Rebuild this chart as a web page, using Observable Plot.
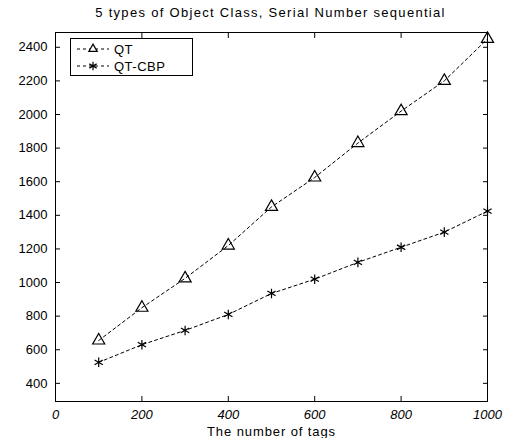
<!DOCTYPE html>
<html>
<head>
<meta charset="utf-8">
<script src="https://cdn.jsdelivr.net/npm/d3@7"></script>
<script src="https://cdn.jsdelivr.net/npm/@observablehq/plot@0.6"></script>
<style>
  body { margin: 0; background: #fff; font-family: "Liberation Sans", Arial, sans-serif; }
  #wrap { position: relative; width: 509px; height: 438px; }
  #title { position: absolute; left: 0; top: 5px; width: 509px; text-align: center; font-size: 13px; letter-spacing: 1.3px; padding-left: 32px; box-sizing: border-box; color: #000; }
  #chart { position: absolute; left: 0; top: 22px; }
  #legend { position: absolute; left: 70px; top: 38px; width: 121px; height: 36px; border: 1px solid #000; background: #fff; font-size: 13px; letter-spacing: 0.5px; }
  #legend .row { position: absolute; left: 4px; height: 16px; display: flex; align-items: center; }
  #legend svg { margin-right: 3px; }
</style>
</head>
<body>
<div id="wrap">
  <div id="title">5 types of Object Class, Serial Number sequential</div>
  <div id="chart"></div>
  <div id="legend"></div>
</div>
<script>
const tags = [100, 200, 300, 400, 500, 600, 700, 800, 900, 1000];
const qt = [655, 850, 1025, 1220, 1450, 1625, 1830, 2020, 2200, 2450];
const qtcbp = [525, 630, 715, 810, 935, 1020, 1120, 1210, 1300, 1425];
const seriesNames = ["QT", "QT-CBP"];
const seriesSymbols = ["triangle", "asterisk"];
const xTicks = [0, 200, 400, 600, 800, 1000];
const yTicks = [400, 600, 800, 1000, 1200, 1400, 1600, 1800, 2000, 2200, 2400];

const rows = [];
tags.forEach((t, i) => {
  rows.push({tags: t, value: qt[i], series: seriesNames[0]});
  rows.push({tags: t, value: qtcbp[i], series: seriesNames[1]});
});

const fmt = d3.format("d");
const chart = Plot.plot({
  width: 509,
  height: 416,
  marginLeft: 55,
  marginRight: 22,
  marginTop: 10,
  marginBottom: 37,
  style: {fontFamily: "Liberation Sans, Arial, sans-serif", fontSize: "13px", color: "#000", background: "#fff"},
  x: {domain: [0, 1000]},
  y: {domain: [292, 2488]},
  symbol: {domain: seriesNames, range: seriesSymbols},
  marks: [
    Plot.frame({stroke: "#000", strokeWidth: 1}),
    Plot.axisY(yTicks, {anchor: "left", tickSize: -5, tickPadding: 13, tickFormat: fmt, label: null, fontSize: 13}),
    Plot.axisY(yTicks, {anchor: "right", tickSize: -5, tickFormat: () => "", label: null}),
    Plot.axisX(xTicks, {anchor: "bottom", tickSize: -5, tickPadding: 13, tickFormat: fmt, label: null, fontSize: 13, fontStyle: "italic"}),
    Plot.axisX(xTicks, {anchor: "top", tickSize: -5, tickFormat: () => "", label: null}),
    Plot.text(["The number of tags"], {frameAnchor: "bottom", dy: 30, fontSize: 13, lineAnchor: "middle"}),
    Plot.line(rows, {x: "tags", y: "value", z: "series", stroke: "#000", strokeWidth: 1, strokeDasharray: "3,3"}),
    Plot.dot(rows, {x: "tags", y: "value", symbol: "series", stroke: "#000", fill: "none", strokeWidth: 1.2, r: 4.5})
  ]
});
document.getElementById("chart").appendChild(chart);
chart.querySelectorAll("text").forEach(t => { if (t.textContent === "The number of tags") t.setAttribute("letter-spacing", "0.9"); });

const legend = document.getElementById("legend");
seriesNames.forEach((name, i) => {
  const row = document.createElement("div");
  row.className = "row";
  row.style.top = (2 + i * 17) + "px";
  const sym = d3.symbol(i === 0 ? d3.symbolTriangle2 : d3.symbolAsterisk, 50)();
  row.innerHTML = `<svg width="36" height="16"><line x1="2" y1="8" x2="34" y2="8" stroke="#000" stroke-dasharray="3,3"/><path d="${sym}" transform="translate(18,8)" fill="${i===0?'#fff':'none'}" stroke="#000" stroke-width="1.2"/></svg><span>${name}</span>`;
  legend.appendChild(row);
});
</script>
</body>
</html>
